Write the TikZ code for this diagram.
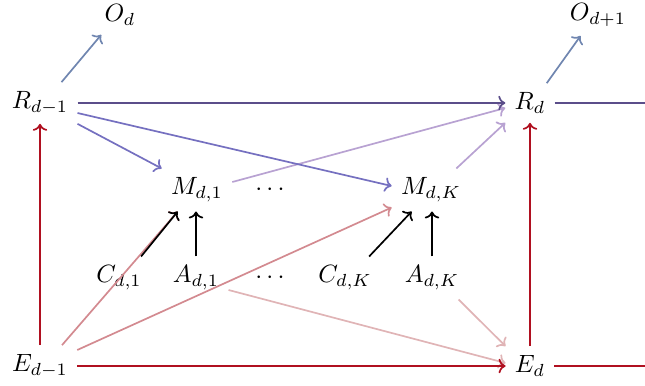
\documentclass[tikz,border=0pt]{standalone}
\usetikzlibrary{arrows.meta}
\definecolor{rdark}{HTML}{5B4E8A}
\definecolor{rm}{HTML}{7570C0}
\definecolor{mr}{HTML}{B8A2D2}
\definecolor{ored}{HTML}{B01020}
\definecolor{epink}{HTML}{D38A90}
\definecolor{apink}{HTML}{E0B4B6}
\definecolor{oblue}{HTML}{7086B0}
\newcommand{\lbtxt}[1]{\scalebox{1.25}{$#1$}}
\tikzset{
  lbl/.style={inner sep=4.5pt},
  arr/.style={->, line width=0.85pt},
  plain/.style={line width=0.85pt},
}
\begin{document}
\begin{tikzpicture}[x=0.5pt,y=-0.5pt]
\useasboundingbox (0,0) rectangle (645,386);
\node[lbl] (Od) at (120,15) {\lbtxt{O_d}};
\node[lbl] (Od1) at (598,15) {\lbtxt{O_{d+1}}};
\node[lbl] (R0) at (40,103) {\lbtxt{R_{d-1}}};
\node[lbl] (R1) at (530,103) {\lbtxt{R_d}};
\node[lbl] (M1) at (197,190) {\lbtxt{M_{d,1}}};
\node[lbl] (dm) at (270,190) {\lbtxt{\cdots}};
\node[lbl] (MK) at (431,190) {\lbtxt{M_{d,K}}};
\node[lbl] (C1) at (119,278) {\lbtxt{C_{d,1}}};
\node[lbl] (A1) at (196,278) {\lbtxt{A_{d,1}}};
\node[lbl] (da) at (270,278) {\lbtxt{\cdots}};
\node[lbl] (CK) at (345,278) {\lbtxt{C_{d,K}}};
\node[lbl] (AK) at (432,278) {\lbtxt{A_{d,K}}};
\node[lbl] (E0) at (40,366) {\lbtxt{E_{d-1}}};
\node[lbl] (E1) at (530,366) {\lbtxt{E_d}};
\coordinate (Rend) at (645,103);
\coordinate (Eend) at (645,366);
% light pink edges
\draw[arr, apink] ([yshift=-6pt]A1.east) -- ([yshift=1.5pt]E1.west);
\draw[arr, apink] ([xshift=-5pt]AK.south east) -- (E1.north west);
% pink edges
\draw[arr, epink] ([xshift=11pt]E0.north) -- ([xshift=8pt]M1.south west);
\draw[arr, epink] ([yshift=8pt]E0.east) -- ([yshift=2pt]MK.south west);
% M to R
\draw[arr, mr] ([yshift=4pt]M1.east) -- ([yshift=-2.5pt]R1.west);
\draw[arr, mr] ([xshift=-7pt]MK.north east) -- (R1.south west);
% R to M
\draw[arr, rm] (R0.south east) -- (M1.north west);
\draw[arr, rm] ([yshift=-5pt]R0.east) -- ([yshift=2pt]MK.west);
% R horizontal
\draw[arr, rdark] (R0) -- (R1);
\draw[plain, rdark] (R1) -- (Rend);
% O
\draw[arr, oblue] ([xshift=-8pt]R0.north east) -- ([xshift=3pt]Od.south west);
\draw[arr, oblue] ([xshift=-4pt]R1.north east) -- ([xshift=10pt]Od1.south west);
% E
\draw[arr, ored] (E0) -- (R0);
\draw[arr, ored] (E1) -- (R1);
\draw[arr, ored] (E0) -- (E1);
\draw[plain, ored] (E1) -- (Eend);
% black
\draw[arr, black] ([xshift=-5pt]C1.north east) -- ([xshift=8pt]M1.south west);
\draw[arr, black] (A1.north) -- (A1.north |- M1.south);
\draw[arr, black] ([xshift=-6pt]CK.north east) -- ([xshift=10pt]MK.south west);
\draw[arr, black] (AK.north) -- (AK.north |- MK.south);
\end{tikzpicture}
\end{document}
